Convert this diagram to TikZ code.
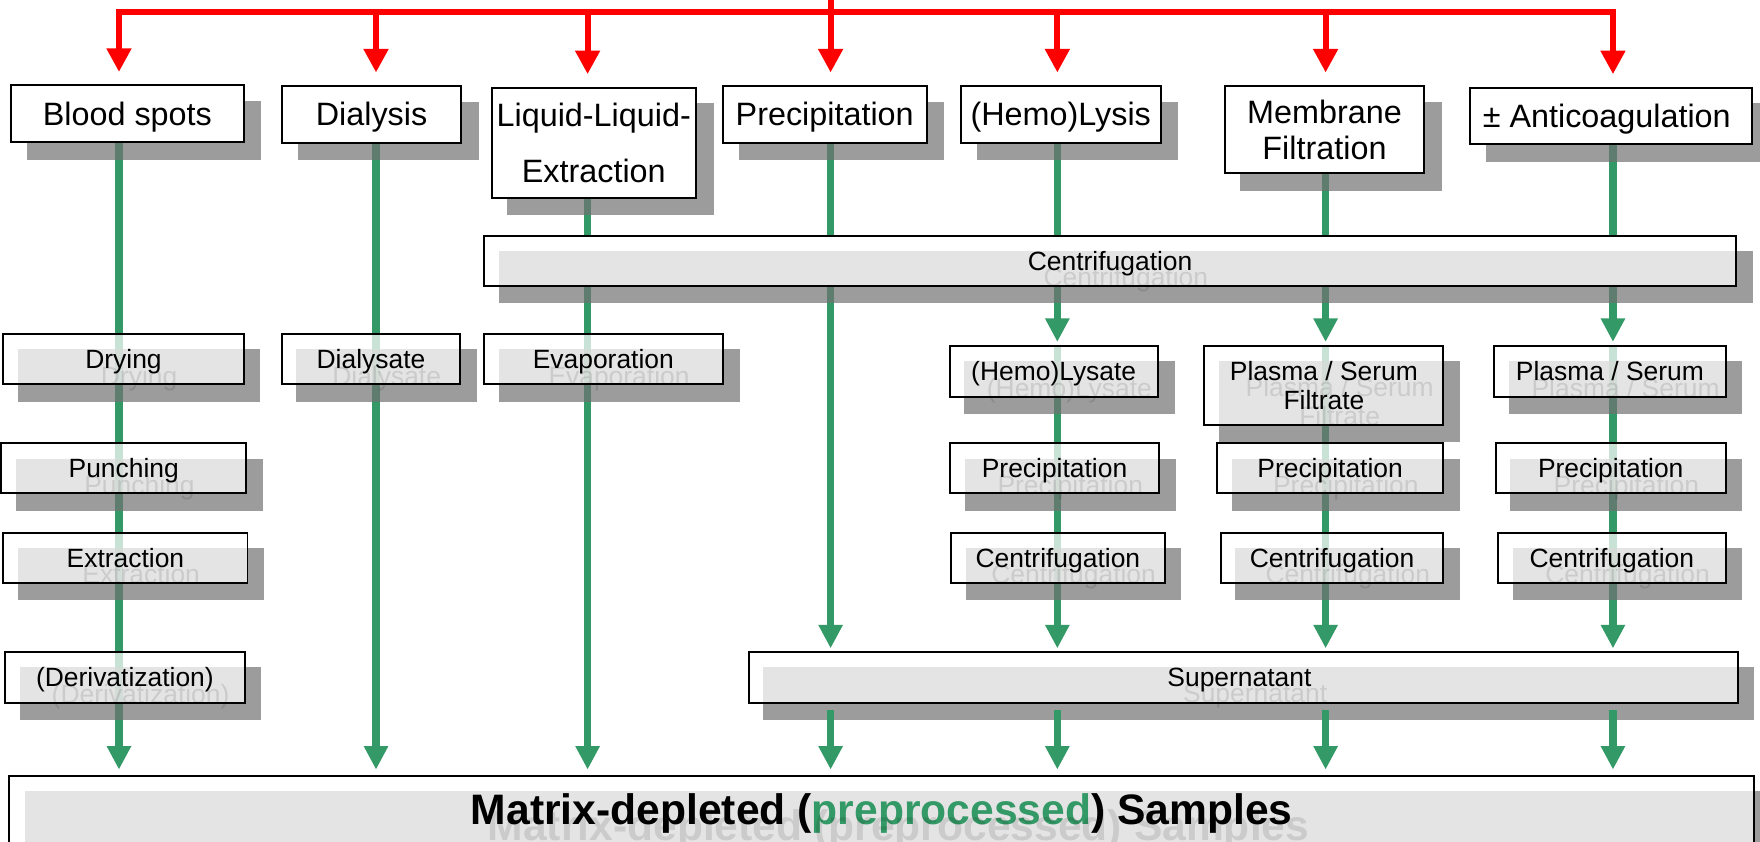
\documentclass[tikz,border=0pt]{standalone}
\usepackage{fontspec}
\setmainfont{Liberation Sans}
\usetikzlibrary{arrows.meta}

\definecolor{flowgreen}{HTML}{339966}
\definecolor{shadowgray}{HTML}{727272}

\pgfdeclarelayer{lines}
\pgfdeclarelayer{shadows}
\pgfsetlayers{lines,shadows,main}

\def\pageframe{(0,0) rectangle (1568,750)}

\tikzset{
  topbox/.style={draw=black, line width=0.5pt, fill=white, inner sep=0pt,
    align=center, text depth=0pt, font=\fontsize{8.2}{9.1}\selectfont},
  stepbox/.style={draw=black, line width=0.5pt, fill=white, fill opacity=0.735,
    text opacity=1, inner sep=0pt, align=center, text depth=0pt,
    font=\fontsize{6.7}{7.4}\selectfont},
  ghost/.style={inner sep=0pt, align=center, text depth=0pt, text opacity=0.11},
  dropshade/.style={fill=shadowgray, fill opacity=0.7},
  busline/.style={draw=red, line width=0.55mm, -{Triangle[width=2.1mm,length=2.1mm]}},
  flow/.style={draw=flowgreen, line width=0.65mm},
  flowarrow/.style={flow, -{Triangle[width=2.05mm,length=2.1mm]}}
}

\begin{document}
\begin{tikzpicture}[x=0.1mm, y=-0.1mm]
    \useasboundingbox \pageframe;
    \clip \pageframe;
    % columns and the red feed
    \foreach \c/\x in {1/106, 2/335, 3/523.5, 4/740, 5/942, 6/1181, 7/1437}
      \coordinate (c\c) at (\x,0);
    \coordinate (bus) at (740,10.7);

    % top boxes, opaque with a drop shadow
    \foreach \nm/\xa/\ya/\xb/\yb/\txt in {
          blood/10/76/217/126.5/Blood spots,
          dialysis/251/76.5/411/127/Dialysis,
          lle/438/78/620/176/{Liquid-Liquid-\\[5.1pt]Extraction},
          precip/644/76.5/825.5/127/Precipitation,
          lysis/856/76.5/1034/127/(Hemo)Lysis,
          membrane/1091/76.5/1269/154/{Membrane\\Filtration},
          anticoag/1310/78/1561/128.5/{± Anticoagulation}
        } {
        \node[topbox, minimum width=(\xb-\xa)*0.1mm, minimum height=(\yb-\ya)*0.1mm]
          (\nm) at ({(\xa+\xb)/2},{(\ya+\yb)/2}) {\txt};
        \begin{pgfonlayer}{shadows}
          \clip \pageframe;
          \fill[dropshade] ([shift={(15,15)}]\nm.south west) rectangle ([shift={(15,15)}]\nm.north east);
        \end{pgfonlayer}
        };

    % step boxes, see-through with shadow and ghost text
    \foreach \nm/\xa/\ya/\xb/\yb/\txt in {
          centri/431/210/1547/254.5/Centrifugation,
          dry/3/297.5/217/342.5/Drying,
          dialysate/251/297.5/410/342.5/Dialysate,
          evap/431/297.5/644/342.5/Evaporation,
          lysate/846/308/1031.5/353.5/(Hemo)Lysate,
          filtrate/1073/308/1286/378.5/{Plasma / Serum\\Filtrate},
          plasma/1331/308/1537.5/353.5/{Plasma / Serum},
          punch/1/395/219.5/439.5/Punching,
          precA/846.5/395/1032.5/439.5/Precipitation,
          precB/1084.5/395/1285.5/439.5/Precipitation,
          precC/1332.5/395/1537.5/439.5/Precipitation,
          extract/3/475/220.5/519.5/Extraction,
          cenA/847.5/475/1037.5/519.5/Centrifugation,
          cenB/1087.5/475/1286/519.5/Centrifugation,
          cenC/1334.5/475/1537.5/519.5/Centrifugation,
          deriv/4.5/581/218/626/(Derivatization),
          super/667/581/1548/626/Supernatant
        } {
        \node[stepbox, minimum width=(\xb-\xa)*0.1mm, minimum height=(\yb-\ya)*0.1mm]
          (\nm) at ({(\xa+\xb)/2},{(\ya+\yb)/2}) {\txt};
        \node[ghost, font=\fontsize{6.7}{7.4}\selectfont] at ([shift={(14,14.5)}]\nm.center) {\txt};
        \begin{pgfonlayer}{shadows}
          \clip \pageframe;
          \fill[dropshade] ([shift={(14,14.5)}]\nm.south west) rectangle ([shift={(14,14.5)}]\nm.north east);
        \end{pgfonlayer}
        };

    % result box, runs off the bottom
    \node[stepbox, minimum width=155.5mm, minimum height=6mm,
      font=\bfseries\fontsize{10.8}{13}\selectfont] (samples) at (785.5,721)
      {Matrix-depleted (\textcolor{flowgreen}{preprocessed}) Samples};
    \node[ghost, font=\bfseries\fontsize{10.8}{13}\selectfont] at ([shift={(15,14.5)}]samples.center)
      {Matrix-depleted (preprocessed) Samples};
    \begin{pgfonlayer}{shadows}
      \clip \pageframe;
      \fill[dropshade] ([shift={(15,14.5)}]samples.south west) rectangle ([shift={(15,14.5)}]samples.north east);
    \end{pgfonlayer}

    % green flow lines, under the boxes
    \begin{pgfonlayer}{lines}
      \draw[flowarrow, shorten >=0.45mm] (c1 |- blood.south) -- (c1 |- samples.north);
      \draw[flowarrow, shorten >=0.45mm] (c2 |- dialysis.south) -- (c2 |- samples.north);
      \draw[flow] (c3 |- lle.south) -- (c3 |- centri.north);
      \draw[flowarrow, shorten >=0.45mm] (c3 |- centri.south) -- (c3 |- samples.north);
      \draw[flow] (c4 |- precip.south) -- (c4 |- centri.north);
      \draw[flowarrow, shorten >=0.25mm] (c4 |- centri.south) -- (c4 |- super.north);
      \foreach \c/\src/\dst in {5/lysis/lysate, 6/membrane/filtrate, 7/anticoag/plasma} {
        \draw[flow] (c\c |- \src.south) -- (c\c |- centri.north);
        \draw[flowarrow, shorten >=0.25mm] (c\c |- centri.south) -- (c\c |- \dst.north);
        \draw[flowarrow, shorten >=0.25mm] (c\c |- \dst.north) -- (c\c |- super.north);
      }
    \end{pgfonlayer}
    % supernatant down to the result
    \foreach \c in {4,...,7}
      \draw[flowarrow, shorten <=0.6mm, shorten >=0.45mm] (c\c |- super.south) -- (c\c |- samples.north);

    % red distribution bus
    \draw[draw=red, line width=0.55mm] (c4) -- (bus);
    \draw[busline, {Triangle[width=2.1mm,length=2.1mm]}-{Triangle[width=2.1mm,length=2.1mm]},
      shorten <=1.1mm, shorten >=1.1mm] (c1 |- blood.north) |- (bus) -| (c7 |- anticoag.north);
    \foreach \c/\nm in {2/dialysis, 3/lle, 4/precip, 5/lysis, 6/membrane}
      \draw[busline, shorten >=1.1mm] (c\c |- bus) -- (c\c |- \nm.north);
\end{tikzpicture}
\end{document}
